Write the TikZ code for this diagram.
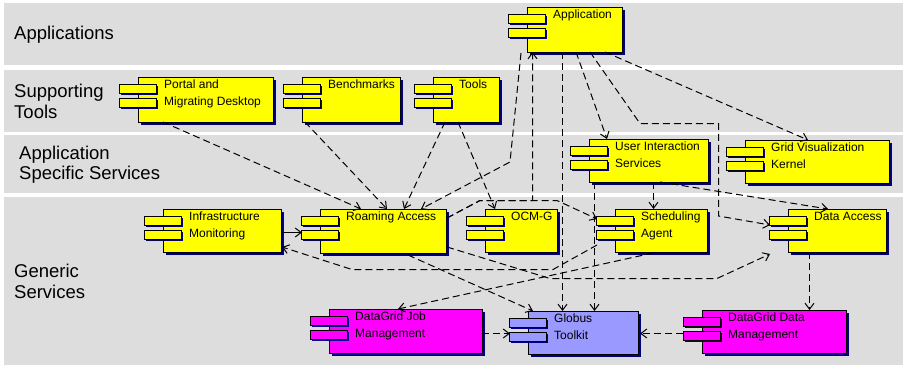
\documentclass[tikz,border=0pt]{standalone}
\usepackage{fontspec}
\setmainfont{Liberation Sans}
\usetikzlibrary{calc,arrows.meta}
\definecolor{bandgray}{RGB}{221,221,221}
\definecolor{cyellow}{RGB}{255,255,0}
\definecolor{cmag}{RGB}{255,0,255}
\definecolor{clav}{RGB}{153,153,255}
\definecolor{snavy}{RGB}{0,0,128}
\tikzset{
  compbox/.style={draw=black, line width=1pt, inner sep=0pt, outer sep=0pt, anchor=north west},
  ctext/.style={anchor=base west, inner sep=0pt, font=\fontsize{12}{14}\selectfont},
  bandtext/.style={anchor=base west, inner sep=0pt, font=\fontsize{18.5}{22}\selectfont},
  dep/.style={draw=black, line width=1pt, dash pattern=on 7pt off 4pt, -{Straight Barb[length=6pt,width=9pt]}},
  solidarr/.style={draw=black, line width=1pt, -{Straight Barb[length=6pt,width=9pt]}},
  portrect/.style={draw=black, line width=0.9pt}
}
\newcommand{\comp}[8]{%
  \fill[snavy] (#2+2.5,#3+2.5) rectangle (#4+2.5,#5+2.5);
  \node[compbox, fill=#6, minimum width={(#4-#2)*1pt}, minimum height={(#5-#3)*1pt}] (#1) at (#2,#3) {};
  \fill[snavy] (#2-17,#3+8.5) rectangle (#2+20,#3+18);
  \fill[snavy] (#2-17,#3+22.5) rectangle (#2+20,#3+32);
  \draw[portrect, fill=#6] (#2-18.5,#3+7) rectangle (#2+18.5,#3+16.5);
  \draw[portrect, fill=#6] (#2-18.5,#3+21) rectangle (#2+18.5,#3+30.5);
  \node[ctext] (#1-a) at (#2+26,#3+11.5) {#7};
  \node[ctext] (#1-b) at (#2+26,#3+28.5) {#8};
}
\begin{document}
\begin{tikzpicture}[x=1pt,y=-1pt]
\useasboundingbox (0,0) rectangle (903,367);
\fill[white] (0,0) rectangle (903,367);
% bands
\fill[bandgray] (4,3) rectangle (903,65);
\fill[bandgray] (4,70) rectangle (903,132);
\fill[bandgray] (4,135) rectangle (903,193);
\fill[bandgray] (4,197) rectangle (903,365);
\node[bandtext] (b1) at (14,39) {Applications};
\node[bandtext] (b2a) at (14,97) {Supporting};
\node[bandtext] (b2b) at (14,118) {Tools};
\node[bandtext] (b3a) at (19,159) {Application};
\node[bandtext] (b3b) at (19,179) {Specific Services};
\node[bandtext] (b4a) at (14,277) {Generic};
\node[bandtext] (b4b) at (14,298) {Services};
% components
\comp{app}{527}{7}{622}{52}{cyellow}{Application}{}
\comp{portal}{138}{77}{273}{122}{cyellow}{Portal and}{Migrating Desktop}
\comp{bench}{302}{77}{400}{122}{cyellow}{Benchmarks}{}
\comp{tools}{433}{77}{499}{122}{cyellow}{Tools}{}
\comp{uis}{589}{139}{708}{182}{cyellow}{User Interaction}{Services}
\comp{gvk}{745}{140}{889}{183}{cyellow}{Grid Visualization}{Kernel}
\comp{im}{163}{209}{281}{252}{cyellow}{Infrastructure}{Monitoring}
\comp{ra}{320}{209}{446}{253}{cyellow}{Roaming Access}{}
\comp{ocm}{485}{209}{557}{252}{cyellow}{OCM-G}{}
\comp{sa}{615}{209}{707}{252}{cyellow}{Scheduling}{Agent}
\comp{da}{788}{209}{886}{252}{cyellow}{Data Access}{}
\comp{djm}{329}{309}{482}{353}{cmag}{DataGrid Job}{Management}
\comp{globus}{528}{311}{638}{354}{clav}{Globus}{Toolkit}
\comp{ddm}{702}{310}{846}{353}{cmag}{DataGrid Data}{Management}
% connectors
\draw[dep] ($(portal.south west)+(25,0)$) -- ($(ra.north west)+(41,0)$);
\draw[dep] ($(bench.south west)+(3,0)$) -- ($(ra.north west)+(67,0)$);
\draw[dep] ($(tools.south west)+(12,0)$) -- ($(ra.north west)+(84,0)$);
\draw[dep] ($(tools.south west)+(25,0)$) -- ($(ocm.north west)+(10,0)$);
\draw[dep] ($(app.south west)+(-6,1)$) -- (510,162) -- ($(ra.north west)+(101,0)$);
\draw[dep] ($(ra.north east)+(1,9)$) -- (480,200.5) -- (532.5,200.5) -- ($(app.south west)+(5.5,0)$);
\draw[dep] ($(ra.north east)+(1,9)$) -- (480,200.5) -- (557,200.5) -- ($(sa.north west)+(-18,10)$);
\draw[dep] ($(app.south west)+(49,0)$) -- ($(uis.north west)+(18,0)$);
\draw[dep] ($(app.south west)+(78,0)$) -- ($(gvk.north west)+(63,0)$);
\draw[dep] ($(app.south west)+(63,0)$) -- (640,123.5) -- (718.5,123.5) -- (718.5,216) -- ($(da.north west)+(-18,16)$);
\draw[dep] ($(app.south west)+(35.5,0)$) -- ($(globus.north west)+(34.5,0)$);
\draw[dep] ($(uis.south west)+(5.5,0)$) -- ($(globus.north west)+(66.5,0)$);
\draw[dep] ($(uis.south west)+(64.5,0)$) -- ($(sa.north west)+(38.5,0)$);
\draw[dep] ($(uis.south west)+(71,0)$) -- ($(da.north west)+(40,0)$);
\draw[solidarr] ($(im.north east)+(0,23.5)$) -- ($(ra.north west)+(-18,23.5)$);
\draw[dep] ($(sa.north west)+(-18,36)$) -- (553,269.5) -- (352,269.5) -- ($(im.north east)+(1,38)$);
\draw[dep] ($(ra.north east)+(1,38)$) -- (550,278.5) -- (717,278.5) -- ($(da.north west)+(-18,45)$);
\draw[dep] ($(ra.south west)+(88,2)$) -- ($(globus.north west)+(5,0)$);
\draw[dep] ($(sa.south west)+(38,1)$) -- ($(djm.north west)+(69,0)$);
\draw[dep] ($(djm.north east)+(0,24.5)$) -- ($(globus.north west)+(-18,22.5)$);
\draw[dep] ($(ddm.north west)+(-19,23.5)$) -- ($(globus.north east)+(2,22.5)$);
\draw[dep] ($(da.south west)+(21.5,0)$) -- ($(ddm.north west)+(107.5,0)$);
\end{tikzpicture}
\end{document}
